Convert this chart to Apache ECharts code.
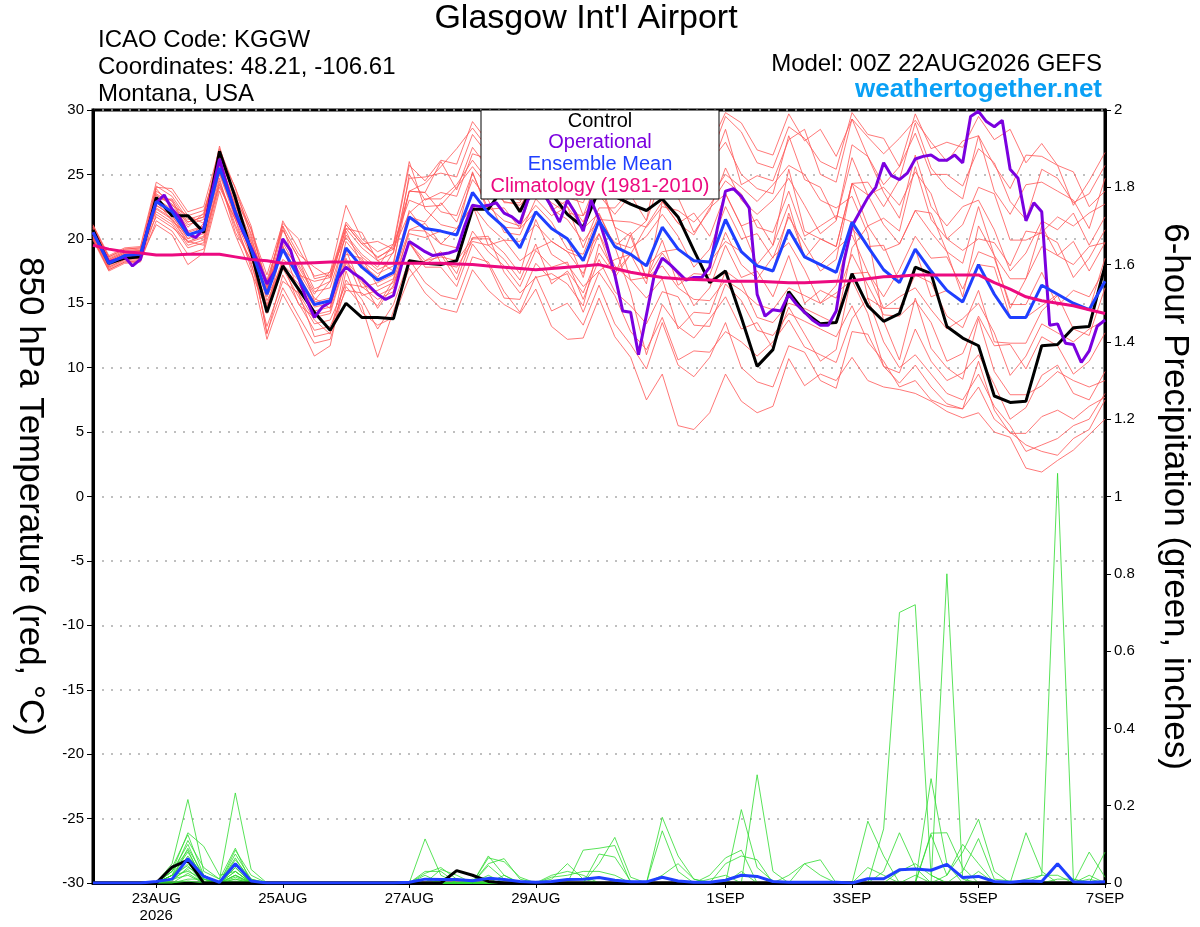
<!DOCTYPE html>
<html><head><meta charset="utf-8">
<script src="https://cdn.jsdelivr.net/npm/echarts@6.0.0/dist/echarts.min.js"></script>
<style>html,body{margin:0;padding:0;background:#fff}#c{width:1200px;height:927px}</style>
</head><body><div id="c"></div>
<script>
// ---- x axis ticks (hours after 00Z 22AUG2026) ----
const tickHours = [24, 72, 120, 168, 240, 288, 336, 384];
const tickLabels = ['23AUG\n2026', '25AUG', '27AUG', '29AUG', '1SEP', '3SEP', '5SEP', '7SEP'];

// ---- 850 hPa temperature, 6-hourly (65 steps) ----
const controlTemp = [20.7,18.1,18.5,18.6, 23.2,21.8,21.8,20.5,26.8,23.2,19.0, 14.3,17.9,16.1,14.3,12.9,15.0,13.9,13.9,13.8, 18.3,18.1,18.0,18.3,22.3,22.3,24.0,22.1,24.5,23.5,21.9,20.9,23.8, 23.3,22.7,22.2,23.1,21.7,19.1,16.6,17.5,13.9,10.1,11.4,15.9,14.3,13.4,13.5, 17.3,14.8,13.6,14.2,17.8,17.3,13.2,12.3,11.7,7.8,7.3,7.4,11.7,11.8,13.1,13.2,17.9];
const meanTemp = [20.5,18.1,18.7,18.8, 22.9,22.1,20.3,20.7,25.5,22.1,19.2, 15.7,19.2,17.0,14.9,15.2,19.3,17.8,16.8,17.4, 21.7,20.8,20.6,20.3,23.6,22.0,20.9,19.3,22.1,20.8,20.0,18.3,21.4, 19.4,18.8,17.9,20.9,19.2,18.3,18.2,21.5,19.0,17.9,17.5,20.7,18.6,18.0,17.4, 21.3,19.4,17.6,16.6,19.2,17.5,16.0,15.1,18.0,15.7,13.9,13.9,16.4,15.7,15.0,14.5,16.7];
const climTemp = [19.5,19.2,19.0,18.9, 18.75,18.75,18.8,18.8,18.8,18.6,18.4, 18.3,18.1,18.1,18.15,18.2,18.2,18.15,18.1,18.1, 18.1,18.1,18.1,18.05,18.0,17.9,17.8,17.7,17.6,17.7,17.8,17.9,18.0, 17.7,17.4,17.2,17.0,16.9,16.85,16.8,16.7,16.7,16.7,16.65,16.6,16.6,16.65,16.7, 16.75,16.9,17.05,17.1,17.2,17.2,17.2,17.2,17.2,16.6,16.1,15.5,15.2,15.0,14.8,14.5,14.2];
// operational run, 3-hourly (129 steps)
const operTemp = [20.5,19.3,18.2,18.4,18.6,17.9,18.4,21.0,22.8,23.4,22.3,21.6,20.4,20.1,20.8,23.5,26.2,24.0,22.0,20.5,19.3,18.0,16.5,17.5,20.0,19.1,17.0,15.3,13.9,14.7,15.1,17.0,17.8,17.3,16.9,16.3,15.7,15.3,15.6,17.9,19.8,19.4,19.0,18.7,18.8,18.9,19.1,21.0,22.6,22.5,22.6,22.8,22.0,21.7,21.2,23.0,24.0,23.5,22.5,21.3,23.0,22.0,20.6,23.0,21.5,19.5,17.2,14.4,14.3,11.0,14.1,17.2,18.5,18.0,17.4,16.8,17.0,17.0,17.8,20.9,23.7,23.9,23.3,22.4,15.7,14.0,14.5,14.4,15.7,14.9,14.3,13.7,13.3,13.3,14.4,18.3,21.0,22.1,23.2,24.0,25.9,24.9,24.6,25.1,26.2,26.4,26.5,26.1,26.1,26.5,25.9,29.5,29.9,29.1,28.7,29.2,25.4,24.7,21.4,22.8,22.1,13.3,13.4,11.9,11.8,10.4,11.3,13.2,13.7];

// ensemble members (red)
const t01 = [21.0,18.6,19.2,19.3, 24.1,23.3,21.5,21.9,26.7,23.3,20.4, 16.8,20.7,18.5,16.1,16.7,20.8,20.5,18.3,18.9, 24.7,24.8,25.1,24.8,28.1,26.5,24.0,23.8,26.6,25.3,23.2,22.8,25.9, 24.9,25.3,23.9,28.9,27.2,26.3,26.2,29.5,28.3,25.9,25.5,28.7,27.8,26.0,25.4, 29.8,28.1,27.8,25.6,28.2,25.0,25.0,24.1,27.0,25.9,22.9,21.5,25.4,24.7,22.8,23.5,25.7];
const t02 = [20.0,17.6,18.2,18.3, 21.9,21.1,19.3,19.7,24.5,21.1,18.2, 13.2,16.7,15.8,12.4,12.7,16.8,15.3,13.0,14.9, 18.4,16.6,15.6,15.3,18.6,18.2,15.9,14.3,17.1,14.4,15.0,13.3,16.4, 13.4,11.8,9.9,13.5,10.2,9.3,10.8,13.5,10.0,8.9,8.5,11.7,11.2,9.0,8.4, 12.8,12.6,10.1,9.6,13.0,10.5,9.0,9.6,11.0,8.7,6.0,6.9,9.4,10.2,8.0,7.5,9.7];
const t03 = [20.7,18.3,18.9,19.0, 23.4,22.6,21.8,21.2,26.0,22.6,19.7, 16.7,19.2,18.0,15.9,16.2,20.3,18.8,17.8,19.6, 23.0,22.5,22.6,24.0,25.6,24.0,22.9,22.6,24.1,22.8,22.0,21.8,23.4, 21.9,23.4,21.4,24.9,23.2,20.5,22.2,25.5,23.0,21.9,23.0,24.7,22.6,20.4,21.4, 27.3,26.4,24.2,25.6,29.7,27.0,27.5,27.1,29.5,27.7,28.5,25.9,27.4,25.7,25.2,22.5,23.7];
const t04 = [20.2,17.8,18.4,18.5, 22.4,21.6,19.8,20.2,25.0,21.6,19.5, 14.2,17.7,15.5,13.4,13.7,16.5,16.3,15.3,15.9, 19.7,18.3,19.0,17.3,20.6,19.0,17.9,16.3,19.1,17.8,18.2,15.3,18.4, 15.9,14.8,13.4,15.9,15.5,13.3,13.2,16.5,15.2,12.9,12.5,14.2,13.6,13.0,12.4, 14.8,12.0,10.5,8.5,9.0,7.5,7.0,6.8,8.5,6.0,5.0,4.0,3.5,3.2,4.5,5.2,7.5];
const t05 = [21.1,18.7,19.3,19.4, 24.4,23.6,21.8,22.2,26.0,23.6,20.7, 17.2,21.2,20.0,16.9,17.2,21.3,19.8,18.5,19.4, 25.7,24.5,26.1,25.8,29.1,27.5,26.4,26.0,26.0,26.3,25.5,23.8,26.9, 23.5,24.8,23.9,26.9,25.2,24.3,25.9,27.5,25.0,23.9,23.5,28.0,24.6,24.0,21.5, 26.3,23.4,21.1,19.6,22.2,22.0,19.0,18.1,22.5,18.7,16.9,16.9,21.0,18.7,18.0,19.4,19.7];
const t06 = [19.9,17.5,18.1,18.2, 21.4,20.6,18.8,19.2,24.0,21.5,17.7, 12.2,15.7,13.5,10.9,11.7,17.5,14.3,13.3,13.9, 17.0,18.3,18.6,18.3,20.0,20.0,18.9,17.3,21.5,18.8,18.0,16.3,17.5, 18.4,18.8,16.5,22.9,21.2,22.0,20.2,23.5,21.0,21.5,19.5,22.7,18.5,20.0,19.4, 24.3,23.4,24.0,22.6,25.2,23.5,20.0,21.1,24.0,23.5,19.9,19.9,20.5,21.7,21.0,22.0,22.7];
const t07 = [20.5,18.1,18.7,18.8, 23.2,23.0,20.6,21.0,25.8,22.4,19.5, 15.2,17.8,16.5,14.4,14.7,18.8,18.5,16.3,16.9, 21.7,21.3,22.8,21.3,24.6,23.0,20.5,20.3,23.1,21.8,22.5,19.3,22.4, 22.4,23.8,24.9,29.9,26.5,27.3,27.2,29.8,29.0,26.9,26.5,29.7,27.6,28.5,26.4, 29.3,26.4,23.6,21.6,26.5,22.5,21.0,22.5,23.0,20.7,17.5,18.9,21.4,20.7,22.0,19.5,21.7];
const t08 = [20.9,18.5,19.1,19.2, 22.6,21.8,20.0,21.2,25.2,21.8,18.9, 15.8,20.7,18.5,15.2,16.7,20.8,19.3,18.3,17.5, 22.2,20.6,19.6,20.8,22.6,21.0,19.9,19.8,21.1,19.8,19.0,18.5,20.4, 17.9,16.8,17.0,17.9,16.2,15.3,15.2,16.8,16.0,14.9,14.5,16.2,15.6,15.0,15.8, 16.8,14.2,10.1,8.8,10.2,8.5,7.2,6.8,10.5,6.7,4.9,4.9,6.2,6.7,6.0,7.0,7.7];
const t09 = [20.3,17.9,18.5,18.6, 23.0,23.1,21.3,21.7,26.5,23.1,20.8, 16.2,19.7,17.5,15.4,14.6,19.8,18.3,17.3,17.9, 25.0,23.0,23.6,23.3,26.6,26.2,23.9,22.3,25.1,22.2,23.0,21.3,24.4, 20.9,20.2,16.9,18.9,17.2,14.8,16.2,19.5,17.0,17.5,15.5,18.7,15.0,16.0,15.4, 18.8,16.4,14.1,14.0,15.2,13.5,10.5,11.1,14.0,11.7,11.8,9.9,12.4,11.7,9.5,10.5,12.7];
const t10 = [20.8,18.4,19.0,19.1, 21.7,20.9,19.8,19.5,24.3,20.9,18.0, 14.7,18.2,14.9,13.9,14.2,18.3,16.8,14.6,16.4, 19.7,17.8,17.8,16.3,19.6,18.0,15.4,15.3,18.1,16.8,17.3,14.3,17.4, 15.6,12.8,11.4,13.9,10.6,11.3,11.2,12.8,12.0,10.9,12.0,13.7,11.6,11.0,10.4, 13.8,15.4,14.6,14.6,17.2,16.6,14.0,13.1,16.0,12.0,11.9,11.9,14.4,15.6,13.0,12.5,16.2];
const t11 = [20.1,17.7,18.3,18.4, 23.7,22.9,21.1,21.5,27.2,22.9,20.0, 16.5,21.0,18.8,17.8,17.0,21.1,19.6,18.6,19.2, 23.7,23.6,22.1,21.8,25.1,22.3,22.4,20.8,24.8,22.3,21.5,19.8,21.5, 21.4,21.3,20.9,22.5,22.2,21.3,22.6,24.5,23.5,20.9,20.5,23.7,20.2,21.0,21.8, 21.3,15.4,12.0,10.0,11.0,9.5,8.0,7.5,9.5,7.0,5.5,3.5,4.0,4.5,5.5,6.0,8.0];
const t12 = [20.6,18.2,18.8,18.9, 22.9,21.4,20.3,20.7,25.5,22.1,19.2, 12.6,17.2,15.0,12.9,13.2,16.0,15.8,14.8,16.8, 20.4,20.1,20.6,20.3,25.2,22.0,20.9,20.8,22.1,20.8,20.0,17.0,21.4, 19.7,19.3,20.2,21.9,20.2,17.8,19.2,22.5,20.0,20.4,18.5,21.7,19.6,17.5,18.4, 24.3,24.4,22.5,24.6,29.0,25.5,24.0,23.1,28.0,23.7,21.9,24.2,24.4,23.7,23.0,20.8,24.7];
const t13 = [21.0,18.6,19.2,19.3, 22.1,21.3,19.5,19.9,24.7,20.5,18.4, 16.0,20.0,17.8,15.7,17.5,20.1,18.6,17.6,18.2, 23.7,23.6,26.0,23.8,27.1,25.5,22.8,22.8,25.6,24.3,25.0,21.8,24.9, 20.9,16.8,15.4,16.9,13.0,14.3,14.2,17.5,16.6,13.9,13.5,15.0,14.6,14.0,13.4, 19.3,21.0,19.1,19.6,22.2,20.5,19.0,15.5,21.0,18.7,14.6,16.9,19.4,18.7,19.8,17.5,19.7];
const t14 = [20.4,18.0,18.6,18.7, 23.5,22.7,20.9,22.0,26.1,22.7,19.8, 15.5,18.0,16.8,14.7,15.0,19.1,16.2,16.6,17.2, 20.7,20.6,18.1,17.8,19.8,19.5,18.4,16.8,19.6,16.5,17.5,15.8,18.9, 17.2,20.3,21.4,27.5,24.2,23.3,23.2,25.0,24.0,22.9,24.2,25.7,25.0,23.0,22.4, 23.3,20.4,13.6,10.6,15.4,11.5,10.0,9.1,13.8,9.7,7.9,7.9,8.6,9.7,9.0,8.5,9.0];
const t15 = [20.7,18.3,18.9,19.0, 24.0,23.9,22.1,22.5,27.0,23.9,21.0, 16.3,21.0,17.2,16.7,17.0,21.1,19.6,19.8,19.2, 22.0,23.1,23.1,24.2,26.1,24.5,23.4,23.0,24.6,23.3,22.5,20.8,22.0, 19.4,15.8,11.0,14.9,13.2,12.3,13.8,15.5,13.0,13.5,11.5,14.7,12.6,10.5,11.4, 17.3,17.4,15.5,17.6,20.2,18.5,18.6,16.1,19.0,18.5,14.9,14.9,17.4,14.8,16.0,15.5,17.7];
const t16 = [20.0,17.6,18.2,18.3, 22.6,21.8,20.0,20.4,25.2,21.8,18.9, 12.7,16.2,14.0,11.9,12.2,16.3,14.8,10.8,14.4, 17.7,15.8,14.6,14.3,17.6,16.0,14.9,14.2,16.1,13.2,12.2,12.3,15.4, 12.4,10.8,7.5,9.5,5.5,5.2,6.5,9.5,7.4,6.5,7.0,10.7,8.6,9.5,9.0, 10.8,9.0,8.5,8.3,8.0,7.4,6.6,6.1,6.5,5.0,4.6,2.2,1.9,2.8,3.6,4.8,6.0];
const t17 = [20.8,18.4,19.0,19.1, 23.1,22.3,20.5,20.9,25.7,22.3,18.6, 15.9,19.4,17.2,15.1,15.4,20.6,18.0,17.0,19.0, 23.7,24.3,25.6,27.0,28.6,27.0,24.6,24.3,27.1,25.8,25.0,25.0,26.4, 24.9,27.0,24.4,27.9,26.2,27.5,25.2,28.5,24.2,24.9,24.5,27.7,28.5,25.0,24.4, 29.3,27.9,26.6,27.8,29.2,27.5,26.0,27.6,28.0,25.7,23.9,26.5,26.4,25.7,22.6,24.5,26.7];
const t18 = [20.2,17.8,18.4,18.5, 21.1,20.3,18.0,18.9,23.7,20.3,17.4, 14.5,19.5,15.8,13.7,12.6,18.1,16.6,15.6,16.2, 20.7,21.2,19.6,19.3,22.6,19.5,19.9,18.3,19.2,19.8,19.0,17.3,20.4, 17.0,18.8,17.9,19.0,19.2,18.3,18.2,19.8,19.0,17.9,17.5,22.0,18.6,18.0,19.2, 20.3,17.4,14.6,15.5,16.2,14.5,13.0,13.8,15.0,12.7,9.4,10.9,13.4,12.7,12.0,13.0,13.7];
const t19 = [20.5,18.1,18.7,18.8, 23.9,22.4,21.3,21.7,26.5,24.0,20.2, 16.0,21.4,19.2,17.1,17.4,22.6,20.0,19.0,19.6, 26.0,22.3,21.1,20.8,22.5,22.5,21.4,21.0,22.6,21.3,19.2,18.8,21.9, 19.4,20.5,16.9,19.9,16.4,17.3,17.2,20.5,18.0,16.9,18.6,19.7,17.6,15.0,16.4, 20.8,19.4,19.5,16.6,19.2,15.5,16.0,15.1,18.0,17.8,13.9,13.9,14.8,15.7,15.0,14.5,18.5];
const t20 = [20.6,18.2,18.8,18.9, 22.3,21.5,19.7,20.1,24.2,21.5,18.6, 14.9,18.4,17.5,14.1,14.4,18.5,15.6,16.0,16.6, 19.7,18.0,18.8,16.8,20.1,20.2,17.4,15.8,17.0,17.3,16.5,14.8,19.6, 17.4,18.8,21.0,22.9,21.2,20.3,22.4,23.5,21.0,18.0,19.5,25.4,20.6,20.0,19.4, 24.3,21.0,21.6,20.6,25.6,21.5,20.0,19.1,20.0,19.7,17.9,20.6,20.4,19.7,17.0,18.5,20.7];
const tempMembers = [t01,t02,t03,t04,t05,t06,t07,t08,t09,t10,t11,t12,t13,t14,t15,t16,t17,t18,t19,t20];

// ---- 6-hour precipitation (inches), 65 steps ----
const controlPrecip = [0,0,0,0,0, .041,.059,0,0,0, 0,0,0,0,0, 0,0,0,0,0, 0,0,0,.032,.02, .004,0,0,0,0, 0,0,0,0,0, 0,0,0,0,0, 0,0,0,0,0, 0,0,0,0,0, 0,0,0,0,0, 0,0,0,0,0, 0,0,0,0,0];
const meanPrecip = [0,0,0,0,.004, .01,.063,.017,.002,.05, .005,0,0,0,0, 0,0,0,0,0, .002,.01,.009,.009,.006, .012,.009,.004,.002,.004, .009,.01,.014,.007,.003, .003,.015,.005,.002,.002, .007,.02,.017,.004,.002, .002,.002,.002,0,.011, .011,.034,.036,.033,.048, .014,.017,.004,.002,.005, .004,.05,.003,.002,.003];
const p01 = [0,0,0,0,0, .05,.216,.03,.01,.09, 0,0,0,0,0, 0,0,0,0,0, 0,.114,.02,0,0, 0,0,0,0,0, 0,0,0,0,0, 0,.02,.05,.01,0, 0,0,0,0,0, 0,0,0,0,0, .14,.70,.72,.02,0, 0,0,0,0,0, 0,0,0,0,0];
const p02 = [0,0,0,0,0, .03,.13,.095,.02,.03, 0,0,0,0,0, 0,0,0,0,0, 0,0,0,0,.01, 0,0,0,0,.01, .05,.01,0,0,0, 0,0,0,0,.01, .02,0,0,0,0, 0,0,0,0,0, 0,0,0,.27,.05, 0,0,0,0,0, 0,0,0,0,0];
const p03 = [0,0,0,0,0, .04,.125,.02,0,.06, .01,0,0,0,0, 0,0,0,0,0, 0,0,0,0,0, .07,.02,0,0,0, 0,0,0,0,0, 0,0,0,0,0, 0,0,0,0,.02, .05,.02,0,0,0, 0,0,0,.129,.13, .04,0,0,0,0, 0,0,0,0,0];
const p04 = [0,0,0,0,0, .02,.11,.04,.01,.233, .035,0,0,0,0, 0,0,0,0,0, 0,0,0,0,0, 0,0,0,0,.015, .02,.03,.03,.02,0, 0,0,0,0,0, 0,0,0,0,0, 0,0,0,0,0, 0,0,0,.125,.02, .10,.05,0,0,0, 0,0,0,0,0];
const p05 = [0,0,0,0,0, .03,.10,.01,0,.085, .02,0,0,0,0, 0,0,0,0,0, 0,.025,.04,.01,0, 0,0,0,0,0, 0,0,0,0,0, 0,0,0,0,0, 0,0,0,0,0, 0,0,0,0,.04, .02,0,0,0,0, 0,0,0,0,0, 0,0,0,0,0];
const p06 = [0,0,0,0,0, .01,.09,.02,0,.04, 0,0,0,0,0, 0,0,0,0,0, 0,0,0,0,0, .05,.063,.01,0,0, 0,0,0,0,0, 0,0,0,0,0, 0,0,0,0,0, 0,0,0,0,0, .03,.13,.04,0,0, 0,0,0,0,0, 0,0,0,0,0];
const p07 = [0,0,0,0,0, .03,.085,0,0,.075, .01,0,0,0,0, 0,0,0,0,0, 0,0,0,0,0, .02,0,0,0,0, 0,.085,.09,.097,0, 0,0,0,0,0, 0,0,0,0,0, 0,0,0,0,0, 0,0,0,0,.02, .08,.165,.03,0,0, 0,0,0,0,0];
const p08 = [0,0,0,0,0, .02,.08,.01,0,.02, 0,0,0,0,0, 0,0,0,0,0, 0,.02,0,0,0, 0,0,0,0,0, 0,0,0,0,0, 0,.17,.07,.01,0, 0,0,0,0,0, 0,0,0,0,0, 0,0,0,0,0, 0,0,0,0,.01, .02,.02,0,0,0];
const p09 = [0,0,0,0,0, .01,.07,.02,0,.05, 0,0,0,0,0, 0,0,0,0,0, 0,0,.035,.02,0, 0,0,0,0,0, 0,0,0,0,0, 0,.135,.03,0,0, 0,0,0,0,0, 0,0,0,0,0, 0,0,0,0,0, 0,0,0,0,0, 0,.01,.01,0,0];
const p10 = [0,0,0,0,0, .02,.065,.005,0,.065, 0,0,0,0,0, 0,0,0,0,0, 0,0,0,0,0, .065,.055,.015,0,0, 0,0,0,0,0, 0,0,0,0,0, 0,0,0,0,0, 0,0,0,0,0, 0,.03,.05,.02,0, 0,0,0,0,0, 0,0,0,.01,0];
const p11 = [0,0,0,0,0, .04,.06,0,0,.03, 0,0,0,0,0, 0,0,0,0,0, 0,0,0,0,0, 0,.02,0,0,0, 0,0,0,0,0, 0,0,0,0,.02, .065,.085,0,0,0, 0,0,0,0,0, 0,0,0,0,0, 0,.03,0,0,0, 0,0,0,0,.08];
const p12 = [0,0,0,0,0, .01,.05,.01,0,.02, 0,0,0,0,0, 0,0,0,0,0, 0,.03,.03,0,0, 0,0,0,0,0, 0,0,0,0,0, 0,0,0,0,0, .05,.07,.06,0,0, 0,0,0,0,0, 0,0,.02,0,0, 0,0,0,0,0, 0,0,0,0,0];
const p13 = [0,0,0,0,0, .02,.045,0,0,.04, 0,0,0,0,0, 0,0,0,0,0, 0,0,0,0,0, .045,.01,0,0,0, 0,0,0,0,0, 0,0,0,0,0, 0,.19,.04,.005,0, 0,0,0,0,0, 0,0,0,0,0, 0,0,0,0,0, 0,0,0,0,0];
const p14 = [0,0,0,0,0, .005,.04,.02,0,.01, 0,0,0,0,0, 0,0,0,0,0, 0,0,0,0,0, 0,0,0,0,.02, .03,.02,0,0,0, 0,0,0,0,0, 0,.03,0,0,0, 0,0,0,0,0, 0,0,0,0,.80, .01,0,0,0,0, 0,0,0,0,0];
const p15 = [0,0,0,0,0, .01,.035,0,0,.02, 0,0,0,0,0, 0,0,0,0,0, 0,.01,0,0,0, 0,0,0,0,0, 0,0,0,0,0, 0,0,0,0,0, 0,0,.28,.03,0, 0,0,0,0,0, 0,0,0,0,0, 0,0,0,0,0, 0,0,0,0,0];
const p16 = [0,0,0,0,0, .02,.03,.01,0,.03, 0,0,0,0,0, 0,0,0,0,0, 0,0,0,0,0, 0,0,0,0,0, 0,0,.05,.118,.015, 0,0,0,0,0, 0,0,0,0,0, 0,0,0,0,0, 0,0,0,0,0, 0,0,0,0,.13, .03,0,0,0,0];
const p17 = [0,0,0,0,0, 0,.025,0,0,.005, 0,0,0,0,0, 0,0,0,0,0, 0,0,0,0,0, 0,0,0,0,0, 0,0,.075,.067,.005, 0,0,0,0,0, 0,0,0,0,0, 0,0,0,0,0, 0,0,0,0,0, 0,0,0,0,0, .02,1.06,.01,0,0];
const p18 = [0,0,0,0,0, .01,.02,0,0,.01, 0,0,0,0,0, 0,0,0,0,0, 0,0,0,0,0, 0,0,0,0,0, 0,0,0,0,0, 0,0,0,0,0, 0,0,0,0,0, .05,.06,0,0,0, 0,0,0,0,0, 0,0,0,0,0, 0,0,0,.08,.015];
const p19 = [0,0,0,0,0, 0,.01,.01,0,0, 0,0,0,0,0, 0,0,0,0,0, 0,0,0,0,0, 0,0,0,0,0, 0,0,0,0,0, 0,0,0,0,0, 0,0,0,0,0, 0,0,0,0,.16, .07,0,0,0,0, 0,0,0,0,0, 0,0,0,.02,0];
const p20 = [0,0,0,0,0, 0,.005,0,0,.015, 0,0,0,0,0, 0,0,0,0,0, 0,0,0,0,0, 0,0,0,0,0, 0,0,0,0,0, 0,0,0,0,0, 0,0,0,0,0, 0,0,0,0,0, 0,0,0,0,0, .03,.115,.01,.005,0, 0,0,0,0,0];
const precipMembers = [p01,p02,p03,p04,p05,p06,p07,p08,p09,p10,p11,p12,p13,p14,p15,p16,p17,p18,p19,p20];

// ---- texts ----
const titleText = "Glasgow Int'l Airport";
const infoLines = ['ICAO Code: KGGW', 'Coordinates: 48.21, -106.61', 'Montana, USA'];
const modelText = 'Model: 00Z 22AUG2026 GEFS';
const siteText = 'weathertogether.net';
const legendItems = ['Control', 'Operational', 'Ensemble Mean', 'Climatology (1981-2010)'];
const leftName = '850 hPa Temperature (red, \u00B0C)';
const rightName = '6-hour Precipitation (green, inches)';

// ---- build chart ----
const FONT = '"Liberation Sans", Arial, Helvetica, sans-serif';
const C = { member:'#ff5555', precip:'#2fdc2f', control:'#000000', oper:'#7b00df', mean:'#1f3fff', clim:'#ec0a80' };
const pts = (arr, step) => arr.map((v, i) => [i * step, v]);
const base = { type:'line', symbol:'none', showSymbol:false, silent:true, animation:false, clip:true };
const series = [];
tempMembers.forEach(a => series.push(Object.assign({}, base, { yAxisIndex:0, data:pts(a,6), lineStyle:{ color:C.member, width:0.8 }, z:2 })));
precipMembers.forEach(a => series.push(Object.assign({}, base, { yAxisIndex:1, data:pts(a,6), lineStyle:{ color:C.precip, width:0.8 }, z:2 })));
series.push(Object.assign({}, base, { yAxisIndex:0, data:pts(controlTemp,6), lineStyle:{ color:C.control, width:3 }, z:3 }));
series.push(Object.assign({}, base, { yAxisIndex:0, data:pts(operTemp,3), lineStyle:{ color:C.oper, width:3 }, z:4 }));
series.push(Object.assign({}, base, { yAxisIndex:0, data:pts(meanTemp,6), lineStyle:{ color:C.mean, width:3 }, z:5 }));
series.push(Object.assign({}, base, { yAxisIndex:0, data:pts(climTemp,6), lineStyle:{ color:C.clim, width:3 }, z:6 }));
series.push(Object.assign({}, base, { yAxisIndex:1, data:pts(controlPrecip,6), lineStyle:{ color:C.control, width:3 }, z:5 }));
series.push(Object.assign({}, base, { yAxisIndex:1, data:pts(meanPrecip,6), lineStyle:{ color:C.mean, width:3 }, z:6 }));

const legendColors = [C.control, C.oper, C.mean, C.clim];
const txt = (text, x, y, size, color, align, weight) => ({
  type:'text', x:x, y:y, z:200,
  style:{ text:text, fill:color, font:(weight||'normal') + ' ' + size + 'px ' + FONT,
          align:align, verticalAlign:'middle', textAlign:align, textVerticalAlign:'middle' }
});
const graphics = [
  txt(titleText, 586, 19, 34, '#000', 'center'),
  txt(infoLines[0], 98, 40, 24, '#000', 'left'),
  txt(infoLines[1], 98, 67, 24, '#000', 'left'),
  txt(infoLines[2], 98, 94, 24, '#000', 'left'),
  txt(modelText, 1102, 64, 24, '#000', 'right'),
  txt(siteText, 1102, 90, 26, '#0aa0f5', 'right', 'bold'),
  { type:'rect', z:150, shape:{ x:481, y:110, width:238, height:89 }, style:{ fill:'#fff', stroke:'#000', lineWidth:1 } }
];
legendItems.forEach((t, k) => graphics.push(txt(t, 600, 121 + k * 21.7, 20, legendColors[k], 'center')));

const labelOf = v => { const k = tickHours.indexOf(v); return k >= 0 ? tickLabels[k] : ''; };

const chart = echarts.init(document.getElementById('c'), null, { renderer:'canvas' });
chart.setOption({
  animation:false,
  backgroundColor:'#fff',
  grid:{ left:93, right:95, top:110, bottom:44, show:true, borderColor:'#000', borderWidth:3, backgroundColor:'transparent' },
  xAxis:{
    type:'value', min:0, max:384,
    axisLine:{ show:true, onZero:false, lineStyle:{ color:'#000', width:3 } },
    axisTick:{ show:true, customValues:tickHours, length:5, lineStyle:{ color:'#000', width:1 } },
    axisLabel:{ customValues:tickHours, formatter:labelOf, color:'#000', fontSize:15, fontFamily:FONT, margin:7, lineHeight:17 },
    splitLine:{ show:false }
  },
  yAxis:[
    { type:'value', min:-30, max:30, interval:5, position:'left',
      name:leftName, nameLocation:'middle', nameRotate:-90, nameGap:46,
      nameTextStyle:{ fontSize:35, fontFamily:FONT, color:'#000' },
      axisLine:{ show:true, onZero:false, lineStyle:{ color:'#000', width:3 } },
      axisTick:{ show:true, length:6, lineStyle:{ color:'#000', width:1 } },
      axisLabel:{ color:'#000', fontSize:15, fontFamily:FONT, margin:9 },
      splitLine:{ show:true, lineStyle:{ color:'#aaaaaa', type:[2,7], width:1.5 } } },
    { type:'value', min:0, max:2, interval:0.2, position:'right',
      name:rightName, nameLocation:'middle', nameRotate:-90, nameGap:52,
      nameTextStyle:{ fontSize:35, fontFamily:FONT, color:'#000' },
      axisLine:{ show:true, onZero:false, lineStyle:{ color:'#000', width:3 } },
      axisTick:{ show:true, length:6, lineStyle:{ color:'#000', width:1 } },
      axisLabel:{ color:'#000', fontSize:15, fontFamily:FONT, margin:9 },
      splitLine:{ show:false } }
  ],
  graphic:graphics,
  series:series
});
</script>
</body></html>
